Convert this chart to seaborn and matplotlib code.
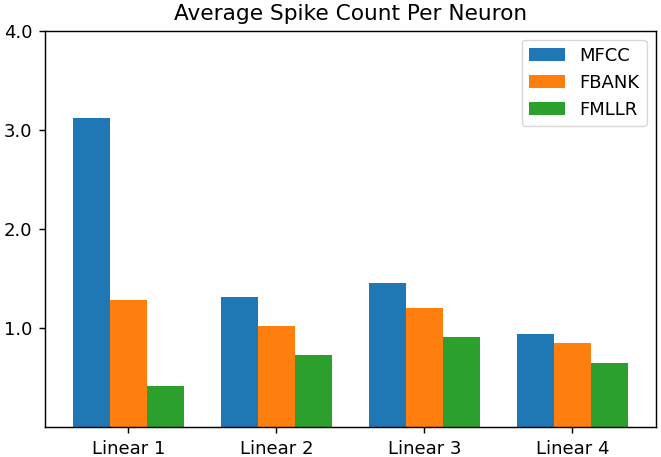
import matplotlib
matplotlib.use("Agg")
import matplotlib.pyplot as plt
import pandas as pd
import seaborn as sns

layers = ["Linear 1", "Linear 2", "Linear 3", "Linear 4"]
features = ["MFCC", "FBANK", "FMLLR"]
mfcc = [3.12, 1.31, 1.45, 0.94]
fbank = [1.28, 1.02, 1.20, 0.85]
fmllr = [0.41, 0.73, 0.91, 0.65]
colors = ["#1f77b4", "#ff7f0e", "#2ca02c"]

rows = []
for name, vals in zip(features, [mfcc, fbank, fmllr]):
    for layer, v in zip(layers, vals):
        rows.append({"layer": layer, "feature": name, "count": v})
df = pd.DataFrame(rows)

# original looks like a default matplotlib figure scaled up ~1.3x
s = 1.3
plt.rcParams.update({
    "font.size": 10 * s,
    "axes.titlesize": 12 * s,
    "axes.titlepad": 6 * s,
    "axes.linewidth": 0.8 * s,
    "xtick.major.size": 3.5 * s,
    "ytick.major.size": 3.5 * s,
    "xtick.major.width": 0.8 * s,
    "ytick.major.width": 0.8 * s,
    "xtick.major.pad": 3.5 * s,
    "ytick.major.pad": 3.5 * s,
})

fig = plt.figure(figsize=(6.61, 4.57), dpi=100)
ax = fig.add_axes([0.068, 0.0656, 0.924, 0.8676])
sns.barplot(data=df, x="layer", y="count", hue="feature", hue_order=features,
            palette=colors, width=0.75, saturation=1, errorbar=None, ax=ax)

ax.set_xlim(-0.5625, 3.5625)
ax.set_ylim(0, 4.0)
ax.set_yticks([1.0, 2.0, 3.0, 4.0])
ax.set_yticklabels(["1.0", "2.0", "3.0", "4.0"])
ax.set_xlabel("")
ax.set_ylabel("")
ax.set_title("Average Spike Count Per Neuron")
ax.legend(loc="upper right")

fig.savefig("out.png", dpi=100)
